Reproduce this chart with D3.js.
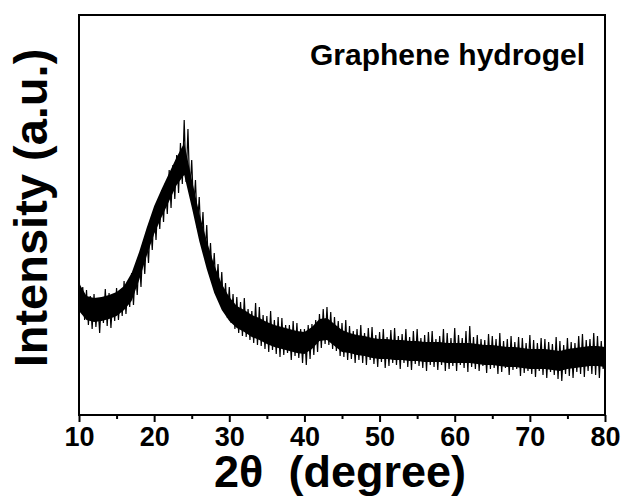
<!DOCTYPE html>
<html>
<head>
<meta charset="utf-8">
<script src="https://cdn.jsdelivr.net/npm/d3@7"></script>
<style>
  body { margin: 0; background: #fff; }
  svg { display: block; }
  .eje text { font-family: "Liberation Sans", Arial, sans-serif; font-weight: bold; font-size: 27px; }
</style>
</head>
<body>
<div id="graf"></div>
<script>
// Datos (intensidad en unidades arbitrarias)
// traza con ruido, un punto cada 0.25 grados desde 10
anguloInicio = 10
anguloPaso = 0.25
intensidad = [
  140, 104, 128, 95,  125, 90, 119, 86,  121, 88, 113, 82,  118, 92, 126, 89,
  122, 87, 117, 94,  127, 95, 122, 99,  134, 101, 129, 108,  142, 110, 146, 120,
  158, 128, 170, 141,  182, 152, 194, 165,  206, 175, 214, 186,  225, 193, 232, 201,
  245, 207, 250, 216,  260, 222, 272, 231,  295, 233, 286, 222,  255, 205, 235, 187,
  218, 172, 203, 157,  190, 144, 172, 133,  162, 122, 151, 112,  143, 103, 132, 97,
  128, 92, 121, 86,  118, 82, 113, 79,  117, 78, 106, 75,  104, 72, 112, 70,
  108, 69, 100, 66,  99, 63, 104, 65,  95, 61, 98, 58,  97, 60, 90, 62,
  90, 55, 94, 59,  92, 57, 86, 52,  86, 50, 90, 56,  91, 60, 95, 63,
  101, 67, 106, 71,  108, 70, 103, 66,  98, 64, 94, 59,  92, 58, 95, 55,
  89, 56, 84, 52,  86, 55, 90, 52,  82, 50, 87, 55,  88, 51, 80, 48,
  83, 53, 86, 47,  78, 49, 85, 52,  87, 50, 79, 46,  81, 52, 86, 48,
  78, 45, 84, 51,  86, 49, 77, 47,  80, 44, 83, 50,  84, 48, 76, 45,
  79, 50, 86, 44,  82, 46, 77, 49,  87, 44, 80, 50,  77, 47, 84, 43,
  89, 48, 78, 46,  80, 44, 76, 49,  75, 42, 81, 46,  79, 47, 76, 41,
  82, 43, 74, 47,  76, 40, 79, 45,  73, 46, 78, 39,  77, 42, 72, 44,
  80, 41, 75, 38,  72, 44, 77, 40,  76, 37, 73, 43,  71, 40, 78, 36,
  74, 34, 70, 41,  77, 39, 73, 37,  72, 43, 79, 41,  81, 38, 75, 44,
  76, 41, 82, 40,  79, 37, 74, 46,
  56
]
// nucleo denso de la banda de ruido, un valor por grado (10..80)
nucleoSup = [
  132, 119, 117, 118, 120, 123, 129, 142, 163, 187, 209, 226, 242, 258, 272, 236,
  202, 174, 150, 131, 118, 109, 105, 100, 97, 93, 90, 88, 86, 84, 83, 88,
  96, 97, 91, 85, 82, 80, 79, 77, 76, 76, 75, 75, 74, 74, 73, 73,
  73, 72, 72, 72, 72, 71, 70, 70, 69, 68, 68, 67, 66, 66, 66, 65,
  64, 66, 67, 68, 69, 69, 68
]
nucleoInf = [
  104, 95, 93, 94, 96, 99, 105, 114, 135, 159, 181, 198, 214, 230, 240, 208,
  174, 146, 122, 105, 94, 87, 83, 78, 75, 71, 68, 66, 64, 62, 61, 66,
  74, 75, 69, 63, 62, 60, 59, 57, 56, 56, 55, 55, 54, 54, 53, 53,
  53, 52, 52, 52, 52, 51, 50, 50, 49, 48, 48, 47, 46, 46, 46, 45,
  44, 46, 47, 48, 49, 49, 48
]
ticksMayores = [10, 20, 30, 40, 50, 60, 70, 80]
ticksMenores = [15, 25, 35, 45, 55, 65, 75]
dominioX = [10, 80]
dominioY = [0, 400]
tituloX = '2θ  (degree)'
tituloY = 'Intensity (a.u.)'
etiqueta = 'Graphene hydrogel'

datos = intensidad.map((v, i) => ({ angulo: anguloInicio + i * anguloPaso, valor: v }))
banda = nucleoSup.map((v, i) => ({ angulo: dominioX[0] + i, sup: v, inf: nucleoInf[i] }))

// Configuración del canvas
ancho_total = 625
alto_total = 497
margins = {top: 15, left: 79, right: 20, bottom: 82}
ancho = ancho_total - margins.left - margins.right
alto = alto_total - margins.top - margins.bottom

svg = d3.select('#graf').append('svg')
        .attr('width', ancho_total)
        .attr('height', alto_total)

g = svg.append('g')
       .attr('transform', `translate(${ margins.left }, ${ margins.top })`)

// -- Escaladores --
x = d3.scaleLinear().domain(dominioX).range([0, ancho])
y = d3.scaleLinear().domain(dominioY).range([alto, 0])

g.append('clipPath').attr('id', 'recorte')
 .append('rect').attr('width', ancho).attr('height', alto)

// banda densa
area = d3.area()
         .x(d => x(d.angulo))
         .y0(d => y(d.inf))
         .y1(d => y(d.sup))

g.append('path')
 .datum(banda)
 .attr('clip-path', 'url(#recorte)')
 .attr('fill', '#000')
 .attr('d', area)

// curva
linea = d3.line()
          .x(d => x(d.angulo))
          .y(d => y(d.valor))

g.append('path')
 .datum(datos)
 .attr('clip-path', 'url(#recorte)')
 .attr('fill', 'none')
 .attr('stroke', '#000')
 .attr('stroke-width', 1.2)
 .attr('d', linea)

// ejes
xAxisGroup = g.append('g')
              .attr('class', 'eje')
              .attr('transform', `translate(0, ${ alto })`)
              .call(d3.axisBottom(x).tickValues(ticksMayores).tickSize(7).tickSizeOuter(0).tickPadding(5))
xAxisGroup.select('.domain').remove()
xAxisGroup.selectAll('line').attr('stroke-width', 2)
xAxisGroup.selectAll('text').attr('fill', '#000')

minorGroup = g.append('g')
              .attr('transform', `translate(0, ${ alto })`)
              .call(d3.axisBottom(x).tickValues(ticksMenores).tickSize(4).tickFormat(''))
minorGroup.select('.domain').remove()
minorGroup.selectAll('line').attr('stroke-width', 2)

// marco
g.append('rect')
 .attr('width', ancho).attr('height', alto)
 .attr('fill', 'none').attr('stroke', '#000').attr('stroke-width', 2)

// textos
fuente = '"Liberation Sans", Arial, sans-serif'
g.append('text')
 .attr('x', ancho - 20).attr('y', 50)
 .attr('text-anchor', 'end')
 .style('font-family', fuente).style('font-weight', 'bold').style('font-size', '30px')
 .text(etiqueta)

svg.append('text')
   .attr('x', 340).attr('y', 487)
   .attr('text-anchor', 'middle')
   .style('white-space', 'pre')
   .style('font-family', fuente).style('font-weight', 'bold').style('font-size', '45px')
   .text(tituloX)

svg.append('text')
   .attr('transform', 'translate(47, 208) rotate(-90)')
   .attr('text-anchor', 'middle')
   .style('font-family', fuente).style('font-weight', 'bold').style('font-size', '47px')
   .text(tituloY)
</script>
</body>
</html>
